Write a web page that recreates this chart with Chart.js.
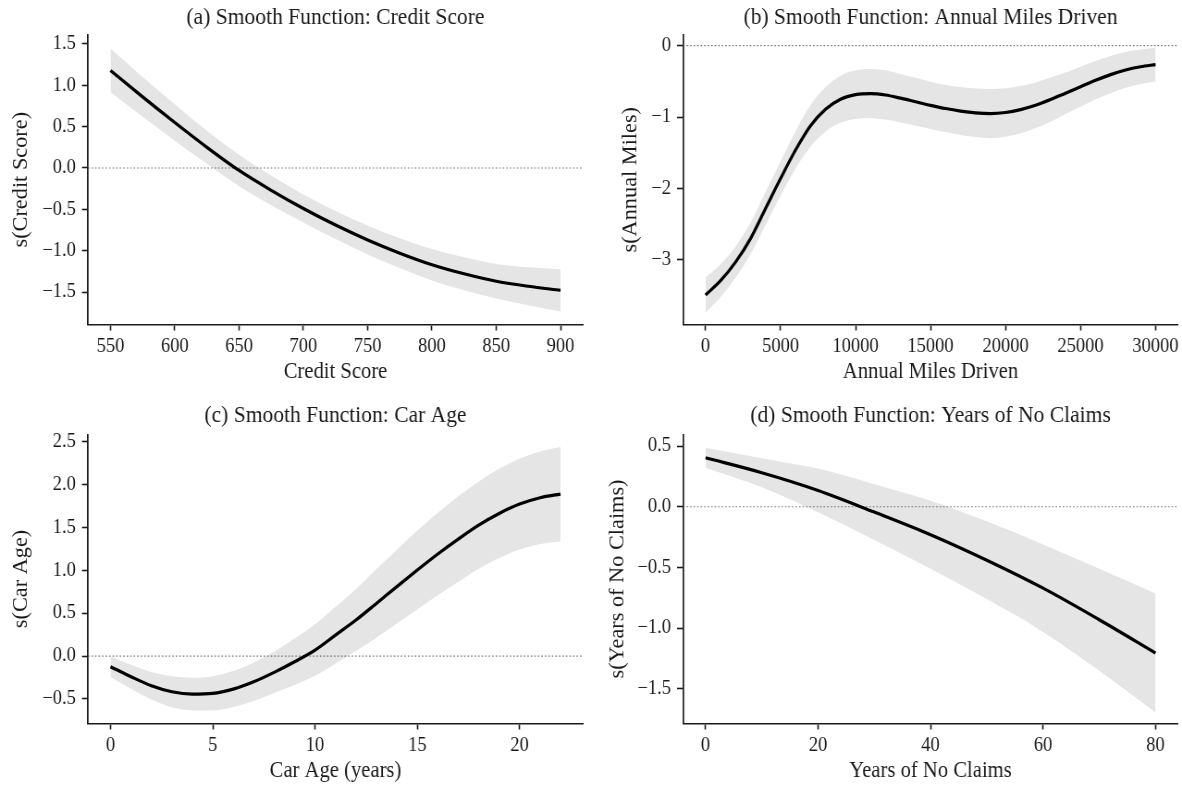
<!DOCTYPE html>
<html>
<head>
<meta charset="utf-8">
<script src="https://cdn.jsdelivr.net/npm/chart.js@4.4.1/dist/chart.umd.min.js"></script>
<style>
  body { margin: 0; background: #fff; width: 1182px; height: 785px; position: relative; overflow: hidden; }
  /* the source figure's text is a little narrow and tall, so each canvas is drawn wider and squeezed */
  canvas { position: absolute; transform: scaleX(0.9249); transform-origin: 0 0; }
</style>
</head>
<body>
<canvas id="chartA" width="639" height="392" style="left:0;top:0"></canvas>
<canvas id="chartB" width="639" height="392" style="left:591px;top:0"></canvas>
<canvas id="chartC" width="639" height="393" style="left:0;top:392px"></canvas>
<canvas id="chartD" width="639" height="393" style="left:591px;top:392px"></canvas>
<script>
// (a) credit score
const creditX     = [550, 575, 600, 625, 650, 675, 700, 725, 750, 775, 800, 825, 850, 875, 900];
const creditFit   = [1.18, 0.86, 0.55, 0.25, -0.03, -0.27, -0.49, -0.69, -0.87, -1.03, -1.17, -1.28, -1.37, -1.43, -1.48];
const creditUpper = [1.445, 1.10, 0.77, 0.45, 0.16, -0.09, -0.32, -0.52, -0.695, -0.85, -0.98, -1.08, -1.16, -1.20, -1.225];
const creditLower = [0.915, 0.62, 0.33, 0.05, -0.22, -0.45, -0.66, -0.86, -1.045, -1.21, -1.36, -1.48, -1.58, -1.66, -1.735];
const creditXTicks = [550, 600, 650, 700, 750, 800, 850, 900];
const creditYTicks = [-1.5, -1.0, -0.5, 0.0, 0.5, 1.0, 1.5];

// (b) annual miles
const milesX     = [0, 1000, 2000, 3000, 4000, 5000, 6000, 7000, 8000, 9000, 10000, 11000, 12000, 13000, 14000, 15000,
                    16000, 17000, 18000, 19000, 20000, 21000, 22000, 23000, 24000, 25000, 26000, 27000, 28000, 29000, 30000];
const milesFit   = [-3.49, -3.29, -3.03, -2.70, -2.28, -1.86, -1.46, -1.12, -0.89, -0.75, -0.685, -0.67, -0.69, -0.735, -0.785, -0.835,
                    -0.88, -0.915, -0.94, -0.95, -0.935, -0.895, -0.835, -0.755, -0.665, -0.575, -0.485, -0.405, -0.34, -0.295, -0.265];
const milesUpper = [-3.245, -3.06, -2.81, -2.48, -2.05, -1.62, -1.20, -0.83, -0.58, -0.42, -0.345, -0.325, -0.345, -0.395, -0.45, -0.505,
                    -0.55, -0.58, -0.60, -0.605, -0.595, -0.565, -0.515, -0.445, -0.375, -0.295, -0.215, -0.145, -0.09, -0.055, -0.03];
const milesLower = [-3.735, -3.52, -3.25, -2.92, -2.51, -2.10, -1.72, -1.41, -1.20, -1.08, -1.025, -1.015, -1.035, -1.075, -1.12, -1.165,
                    -1.21, -1.25, -1.28, -1.295, -1.275, -1.225, -1.155, -1.065, -0.955, -0.855, -0.755, -0.665, -0.59, -0.535, -0.50];
const milesXTicks = [0, 5000, 10000, 15000, 20000, 25000, 30000];
const milesYTicks = [-3, -2, -1, 0];

// (c) car age
const ageX     = [0, 1, 2, 3, 4, 5, 6, 7, 8, 9, 10, 11, 12, 13, 14, 15, 16, 17, 18, 19, 20, 21, 22];
const ageFit   = [-0.124, -0.24, -0.346, -0.416, -0.443, -0.435, -0.385, -0.30, -0.19, -0.066, 0.07, 0.245,
                  0.42, 0.614, 0.81, 1.003, 1.19, 1.364, 1.527, 1.663, 1.772, 1.846, 1.889];
const ageUpper = [-0.004, -0.10, -0.186, -0.236, -0.253, -0.235, -0.175, -0.075, 0.05, 0.204, 0.37, 0.575,
                  0.78, 1.014, 1.24, 1.463, 1.67, 1.864, 2.037, 2.183, 2.302, 2.386, 2.439];
const ageLower = [-0.244, -0.38, -0.506, -0.596, -0.633, -0.635, -0.595, -0.525, -0.43, -0.336, -0.23, -0.085,
                  0.06, 0.214, 0.38, 0.543, 0.71, 0.864, 1.017, 1.143, 1.242, 1.306, 1.339];
const ageXTicks = [0, 5, 10, 15, 20];
const ageYTicks = [-0.5, 0.0, 0.5, 1.0, 1.5, 2.0, 2.5];

// (d) years of no claims
const claimsX     = [0, 10, 20, 30, 40, 50, 60, 70, 80];
const claimsFit   = [0.403, 0.28, 0.134, -0.044, -0.23, -0.44, -0.67, -0.93, -1.204];
const claimsUpper = [0.485, 0.40, 0.314, 0.186, 0.05, -0.12, -0.31, -0.51, -0.714];
const claimsLower = [0.321, 0.16, -0.046, -0.274, -0.51, -0.76, -1.03, -1.35, -1.694];
const claimsXTicks = [0, 20, 40, 60, 80];
const claimsYTicks = [-1.5, -1.0, -0.5, 0.0, 0.5];

const SERIF = "'Liberation Serif', 'DejaVu Serif', serif";
const INK = '#1a1a1a';

function pts(xs, ys) {
    return xs.map((x, i) => ({ x: x, y: ys[i] }));
}

function fmt(v, dec) {
    return Number(v).toFixed(dec).replace('-', '\u2212');
}

// one panel: band (upper filled to lower), dotted zero line, fitted curve
function drawPanel(id, p) {
    let ctx = document.getElementById(id).getContext('2d');
    return new Chart(ctx, {
        type: 'line',
        data: {
            datasets: [
                { data: pts(p.x, p.fit), borderColor: '#000', borderWidth: 3.2, pointRadius: 0,
                  cubicInterpolationMode: 'monotone', fill: false, order: 0 },
                { data: [{ x: p.xMin, y: 0 }, { x: p.xMax, y: 0 }], borderColor: 'rgba(90,90,90,0.85)',
                  borderWidth: 1.2, borderDash: [1.6, 2.2], pointRadius: 0, fill: false, order: 1 },
                { data: pts(p.x, p.upper), borderColor: 'rgba(0,0,0,0)', borderWidth: 1, pointRadius: 0,
                  backgroundColor: '#e5e5e5', fill: '+1', cubicInterpolationMode: 'monotone', order: 2 },
                { data: pts(p.x, p.lower), borderColor: 'rgba(0,0,0,0)', borderWidth: 1, pointRadius: 0,
                  fill: false, cubicInterpolationMode: 'monotone', order: 3 }
            ]
        },
        options: {
            responsive: false,
            animation: false,
            devicePixelRatio: 1,
            layout: { padding: { left: 0, right: p.padRight, top: 0, bottom: 0 } },
            plugins: {
                legend: { display: false },
                tooltip: { enabled: false },
                title: {
                    display: true, text: p.title, fullSize: false, color: INK,
                    font: { family: SERIF, size: 23.3, weight: 'normal' },
                    padding: { top: p.titleTop, bottom: p.titleBottom }
                }
            },
            scales: {
                x: {
                    type: 'linear', min: p.xMin, max: p.xMax,
                    afterBuildTicks: s => { s.ticks = p.xTicks.map(v => ({ value: v })); },
                    afterFit: s => { s.height = p.xAxisH; s.paddingLeft = 0; s.paddingRight = 0; },
                    border: { display: true, color: INK, width: 1.6 },
                    grid: { display: true, drawOnChartArea: false, drawTicks: true, tickLength: 6, tickColor: INK, tickWidth: 1.6 },
                    ticks: { color: INK, font: { family: SERIF, size: 20 }, padding: 4, maxRotation: 0, autoSkip: false,
                             callback: v => fmt(v, 0) },
                    title: { display: true, text: p.xLabel, color: INK, font: { family: SERIF, size: 22.3 },
                             padding: { top: 0, bottom: p.xTitlePad } }
                },
                y: {
                    type: 'linear', min: p.yMin, max: p.yMax,
                    afterBuildTicks: s => { s.ticks = p.yTicks.map(v => ({ value: v })); },
                    afterFit: s => { s.width = p.yAxisW; s.paddingTop = 0; s.paddingBottom = 0; },
                    border: { display: true, color: INK, width: 1.7 },
                    grid: { display: true, drawOnChartArea: false, drawTicks: true, tickLength: 6.5, tickColor: INK, tickWidth: 1.6 },
                    ticks: { color: INK, font: { family: SERIF, size: 20 }, padding: 6.5, autoSkip: false,
                             callback: v => fmt(v, p.yDec) },
                    title: { display: true, text: p.yLabel, color: INK, font: { family: SERIF, size: 22.3 },
                             padding: { top: p.yTitlePad, bottom: 0 } }
                }
            }
        }
    });
}

drawPanel('chartA', {
    title: '(a) Smooth Function: Credit Score', xLabel: 'Credit Score', yLabel: 's(Credit Score)',
    x: creditX, fit: creditFit, upper: creditUpper, lower: creditLower,
    xTicks: creditXTicks, yTicks: creditYTicks, yDec: 1,
    xMin: 532.5, xMax: 917.5, yMin: -1.893, yMax: 1.609,
    padRight: 8.65, yAxisW: 95.1, xAxisH: 67.5, titleTop: 3.5, titleBottom: 3.5, xTitlePad: 6.6, yTitlePad: 9.3
});

drawPanel('chartB', {
    title: '(b) Smooth Function: Annual Miles Driven', xLabel: 'Annual Miles Driven', yLabel: 's(Annual Miles)',
    x: milesX, fit: milesFit, upper: milesUpper, lower: milesLower,
    xTicks: milesXTicks, yTicks: milesYTicks, yDec: 0,
    xMin: -1500, xMax: 31500, yMin: -3.903, yMax: 0.15,
    padRight: 4.3, yAxisW: 99.5, xAxisH: 67.5, titleTop: 3.5, titleBottom: 3.5, xTitlePad: 6.6, yTitlePad: 29.3
});

drawPanel('chartC', {
    title: '(c) Smooth Function: Car Age', xLabel: 'Car Age (years)', yLabel: 's(Car Age)',
    x: ageX, fit: ageFit, upper: ageUpper, lower: ageLower,
    xTicks: ageXTicks, yTicks: ageYTicks, yDec: 1,
    xMin: -1.1, xMax: 23.1, yMin: -0.786, yMax: 2.584,
    padRight: 8.65, yAxisW: 95.1, xAxisH: 61.5, titleTop: 9.8, titleBottom: 4.7, xTitlePad: 0.1, yTitlePad: 9.3
});

drawPanel('chartD', {
    title: '(d) Smooth Function: Years of No Claims', xLabel: 'Years of No Claims', yLabel: 's(Years of No Claims)',
    x: claimsX, fit: claimsFit, upper: claimsUpper, lower: claimsLower,
    xTicks: claimsXTicks, yTicks: claimsYTicks, yDec: 1,
    xMin: -4, xMax: 84, yMin: -1.784, yMax: 0.595,
    padRight: 4.3, yAxisW: 99.5, xAxisH: 61.5, titleTop: 9.8, titleBottom: 4.7, xTitlePad: 0.1, yTitlePad: 15.5
});
</script>
</body>
</html>
